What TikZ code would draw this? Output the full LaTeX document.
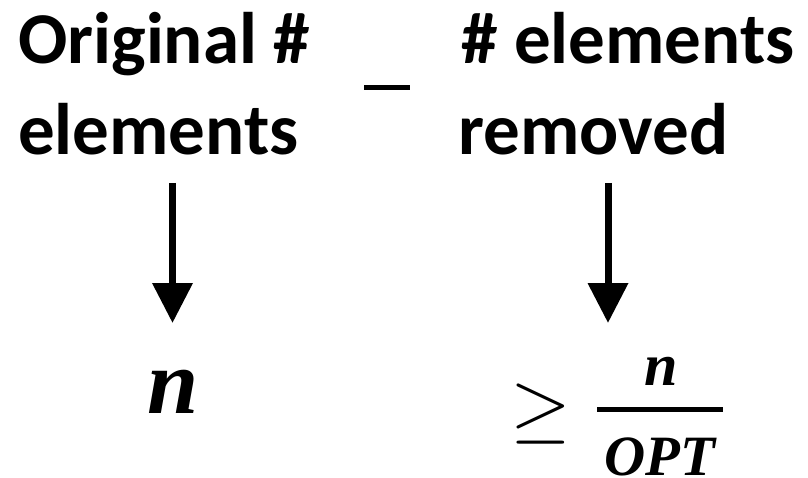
\RequirePackage{fix-cm}
\documentclass[tikz,border=0pt]{standalone}
\usepackage{fontspec}
\usepackage{amsmath}
\setmainfont{Carlito}
\newfontfamily\mathserif{Liberation Serif}
\usetikzlibrary{arrows.meta}

\tikzset{
  label/.style={inner sep=0pt, anchor=base west,
    font=\fontsize{73}{80}\selectfont\bfseries},
  mathvar/.style={inner sep=0pt, anchor=base},
  downarrow/.style={line width=7pt,
    -{Triangle[width=39pt,length=40pt]}},
}

\begin{document}
\begin{tikzpicture}[x=1pt,y=-1pt]
  \path[use as bounding box] (0,0) rectangle (808,478);

  % left column: original count
  \node[label] (orig1) at (18,64) {Original \#};
  \node[label] (orig2) at (18,155) {elements};

  % minus sign between the columns
  \coordinate (minusL) at (364,87.5);
  \coordinate (minusR) at (410,87.5);
  \draw[line width=5pt] (minusL) -- (minusR);

  % right column: removed count
  \node[label] (rem1) at (461,64) {\# elements};
  \node[label] (rem2) at (458,155) {removed};

  % bottom row
  \node[mathvar, font=\mathserif\bfseries\itshape\fontsize{92}{92}\selectfont] (nleft) at (173,413) {n};
  \node[inner sep=0pt, anchor=base, font=\fontsize{78}{78}\selectfont] (geq) at (541,433) {$\geq$};
  \node[mathvar, font=\mathserif\bfseries\itshape\fontsize{60}{60}\selectfont] (num) at (661,385) {n};
  \node[mathvar, font=\mathserif\bfseries\itshape\fontsize{57}{57}\selectfont] (den) at (660,475) {OPT};
  \coordinate (barL) at (597,409.5);
  \coordinate (barR) at (723,409.5);
  \draw[line width=5pt] (barL) -- (barR);

  % arrows
  \coordinate (a1s) at (172.5,183);
  \coordinate (a1e) at (172.5,323);
  \coordinate (a2s) at (608,183);
  \coordinate (a2e) at (608,323);
  \draw[downarrow] (a1s) -- (a1e);
  \draw[downarrow] (a2s) -- (a2e);
\end{tikzpicture}
\end{document}
